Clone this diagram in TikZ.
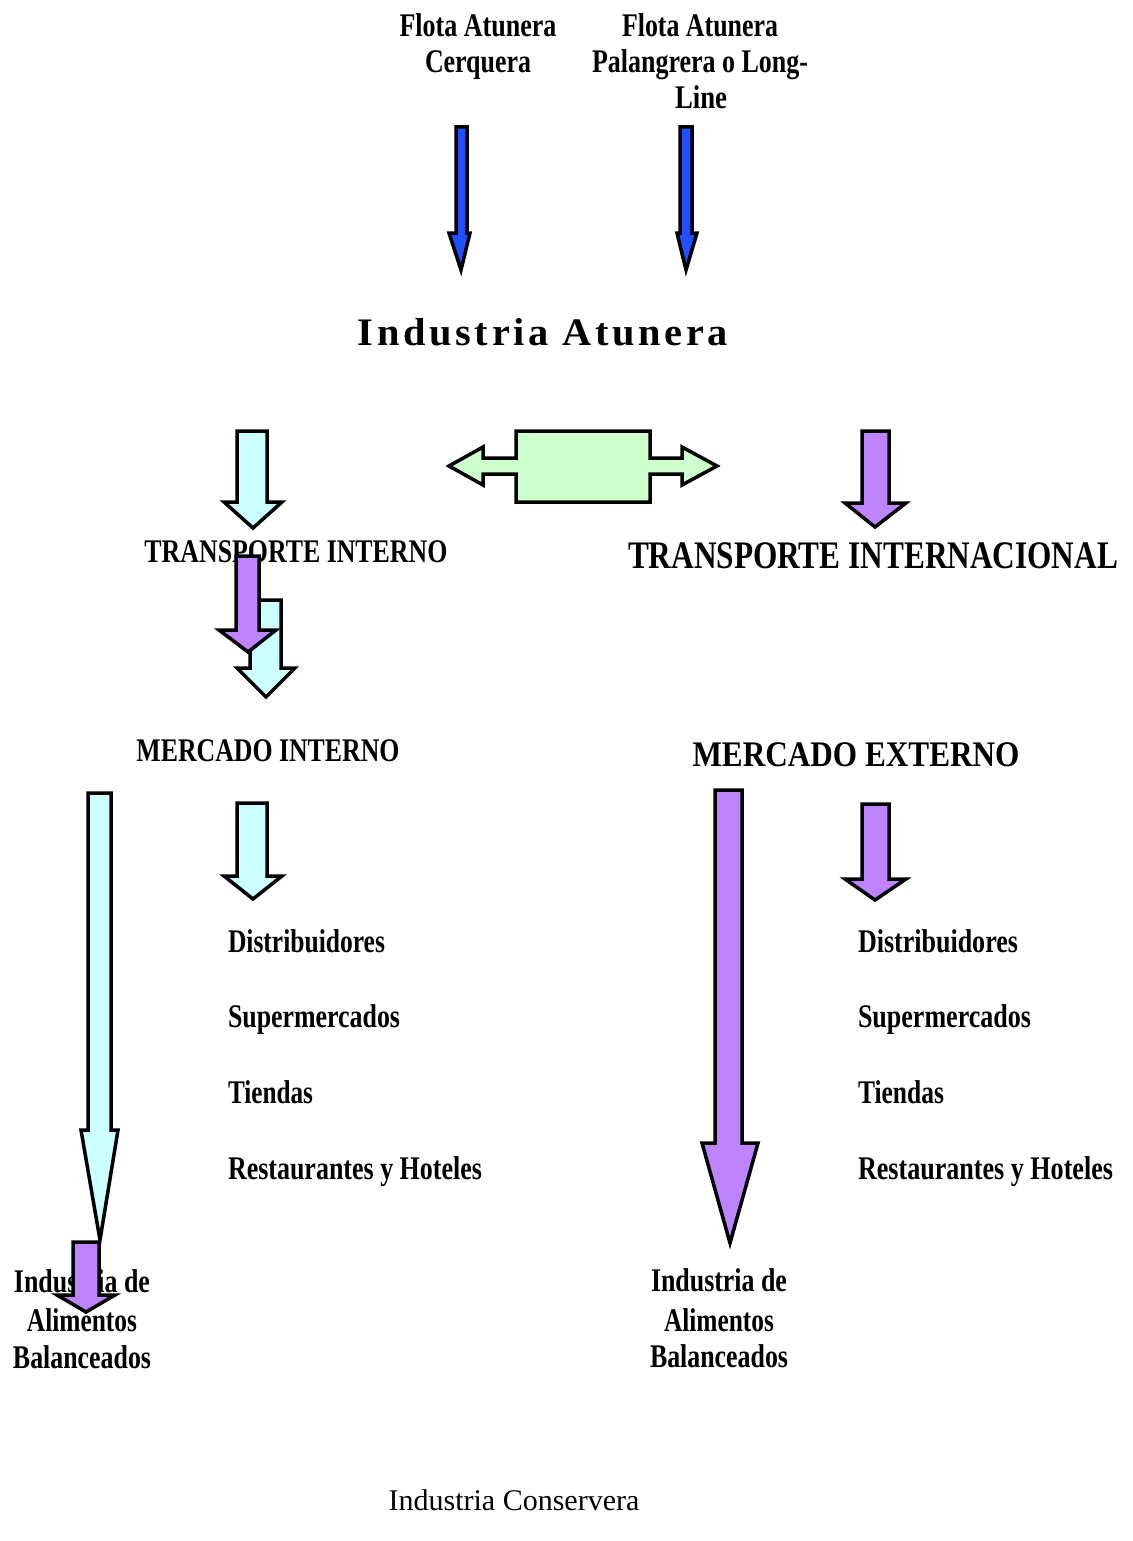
\documentclass[tikz,border=0pt]{standalone}
\usepackage{fontspec}
\setmainfont{Liberation Serif}
\usepackage{graphicx}
\newcommand\tw[2]{\resizebox{#1pt}{\height}{#2}}
% block arrow pointing down: style, shaft left, shaft right, top, head base, head left, head right, tip x, tip y
\newcommand\darr[9]{\draw[#1] (#2,#4) -- (#3,#4) -- (#3,#5) -- (#7,#5) -- (#8,#9) -- (#6,#5) -- (#2,#5) -- cycle;}
\definecolor{arrblue}{RGB}{32,80,255}
\definecolor{arrcyan}{RGB}{204,255,255}
\definecolor{arrpurple}{RGB}{190,132,255}
\definecolor{arrgreen}{RGB}{204,255,204}
\begin{document}
\begin{tikzpicture}[x=1pt,y=-1pt,
  lbl/.style={inner sep=0pt,outer sep=0pt,anchor=base,font=\bfseries\fontsize{33}{36}\selectfont},
  lbll/.style={lbl,anchor=base west},
  big/.style={lbl,font=\bfseries\fontsize{38}{40}\selectfont},
  blk/.style={draw=black,line width=3.5pt,line join=miter,miter limit=10},
  blue/.style={blk,fill=arrblue},
  cyan/.style={blk,fill=arrcyan},
  purple/.style={blk,fill=arrpurple},
  green/.style={blk,fill=arrgreen}]
\useasboundingbox[fill=white] (0,0) rectangle (1132,1541);

% top labels
\node[lbl] (f1a) at (478,37) {\tw{157}{Flota Atunera}};
\node[lbl] (f1b) at (478,73) {\tw{106}{Cerquera}};
\node[lbl] (f2a) at (700,37) {\tw{156}{Flota Atunera}};
\node[lbl] (f2b) at (700,73) {\tw{216}{Palangrera o Long-}};
\node[lbl] (f2c) at (701,109) {\tw{52}{Line}};

% blue arrows
\darr{blue}{456}{467}{127}{233}{449}{470}{461}{270}
\darr{blue}{680}{692}{127}{233}{677}{697}{686}{270}

\node[big,font=\bfseries\fontsize{39}{40}\selectfont\addfontfeature{LetterSpace=9}] (ia) at (543,345) {\tw{370}{Industria Atunera}};

% transport labels
\node[lbl] (ti) at (296,562) {\tw{303}{TRANSPORTE INTERNO}};
\node[big,font=\bfseries\fontsize{39}{40}\selectfont] (tx) at (873,568) {\tw{490}{TRANSPORTE INTERNACIONAL}};
\node[lbl] (mi) at (268,761) {\tw{263}{MERCADO INTERNO}};
\node[big,font=\bfseries\fontsize{36}{40}\selectfont] (me) at (856,766) {\tw{327}{MERCADO EXTERNO}};

% lists
\node[lbll] (ld) at (228,952) {\tw{157}{Distribuidores}};
\node[lbll] (ls) at (228,1027) {\tw{172}{Supermercados}};
\node[lbll] (lt) at (228,1103) {\tw{85}{Tiendas}};
\node[lbll] (lr) at (228,1179) {\tw{254}{Restaurantes y Hoteles}};
\node[lbll] (rd) at (858,952) {\tw{160}{Distribuidores}};
\node[lbll] (rs) at (858,1027) {\tw{173}{Supermercados}};
\node[lbll] (rt) at (858,1103) {\tw{86}{Tiendas}};
\node[lbll] (rr) at (858,1179) {\tw{255}{Restaurantes y Hoteles}};

% industria de alimentos
\node[lbl] (la1) at (82,1292) {\tw{136}{Industria de}};
\node[lbl] (la2) at (82,1331) {\tw{110}{Alimentos}};
\node[lbl] (la3) at (82,1368) {\tw{138}{Balanceados}};
\node[lbl] (ra1) at (719,1291) {\tw{136}{Industria de}};
\node[lbl] (ra2) at (719,1331) {\tw{110}{Alimentos}};
\node[lbl] (ra3) at (719,1367) {\tw{138}{Balanceados}};

\node[inner sep=0pt,anchor=base,font=\fontsize{30}{34}\selectfont] (ic) at (514,1510) {Industria Conservera};

% block arrows
\darr{cyan}{237}{267}{431}{502}{224}{282}{253}{528}
\draw[green] (449,466) -- (483,447) -- (483,458) -- (516,458) -- (516,431) -- (650,431) -- (650,458)
  -- (682,458) -- (682,447) -- (717,466) -- (682,485) -- (682,474) -- (650,474) -- (650,502)
  -- (516,502) -- (516,474) -- (483,474) -- (483,485) -- cycle;
\darr{purple}{862}{889}{431}{503}{845}{906}{875}{527}
\darr{cyan}{250}{281}{600}{668}{237}{295}{266}{697}
\darr{purple}{236}{259}{556}{630}{219}{276}{248}{652}
\darr{cyan}{237}{267}{803}{876}{224}{282}{253}{899}
\darr{cyan}{88}{111}{793}{1130}{81}{118}{100}{1240}
\darr{purple}{73}{99}{1242}{1295}{57}{115}{86}{1312}
\darr{purple}{715}{742}{790}{1143}{702}{758}{730}{1243}
\darr{purple}{862}{889}{804}{879}{845}{906}{875}{900}
\end{tikzpicture}
\end{document}
